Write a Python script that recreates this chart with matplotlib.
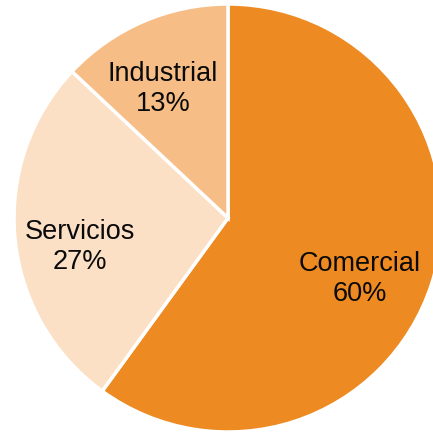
import matplotlib.pyplot as plt

plt.rcParams['font.family'] = ['Liberation Sans', 'DejaVu Sans']

sectors = ['Comercial', 'Servicios', 'Industrial']
shares = [60, 27, 13]
colors = ['#EE8A22', '#FBE0C6', '#F6BE86']

# label centres in data units (pie radius = 1)
label_pos = [(0.617, -0.285), (-0.692, -0.136), (-0.304, 0.603)]

fig = plt.figure(figsize=(4.33, 4.33), dpi=100)
ax = fig.add_axes([0, 0, 1, 1])

ax.pie(shares, colors=colors, startangle=90, counterclock=False,
       radius=1.0, wedgeprops=dict(edgecolor='white', linewidth=2.5))

for name, val, (x, y) in zip(sectors, shares, label_pos):
    ax.text(x, y, f'{name}\n{val}%', ha='center', va='center',
            fontsize=19.5, color='#0a0a0a', linespacing=1.2)

# pie centre sits at (228, 218) px, radius 214 px; right side is cropped
ax.set_xlim(-228 / 214, (433 - 228) / 214)
ax.set_ylim((218 - 433) / 214, 218 / 214)
ax.set_aspect('auto')
ax.axis('off')

fig.savefig('out.png', dpi=100, facecolor='white')
